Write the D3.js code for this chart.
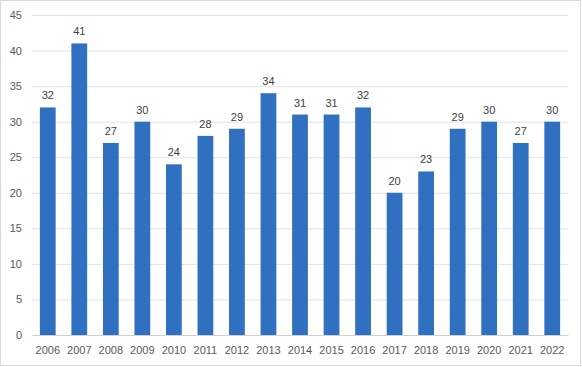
<!DOCTYPE html>
<html><head><meta charset="utf-8">
<script src="https://cdn.jsdelivr.net/npm/d3@7"></script>
<style>body{margin:0;background:#fff}svg{display:block}</style>
</head><body><svg id="c" width="582" height="367"></svg>
<script>
const years = ["2006","2007","2008","2009","2010","2011","2012","2013","2014","2015","2016","2017","2018","2019","2020","2021","2022"];
const values = [32,41,27,30,24,28,29,34,31,31,32,20,23,29,30,27,30];
const yTicks = [0,5,10,15,20,25,30,35,40,45];

const svg = d3.select("#c");
const font = "'Liberation Sans', Arial, sans-serif";
svg.append("rect").attr("x",0.5).attr("y",0.5).attr("width",580).attr("height",365)
  .attr("fill","#fff").attr("stroke","#d9d9d9");

const x = d3.scaleBand().domain(years).range([32,568]).paddingInner(0.5).paddingOuter(0.25);
const y = d3.scaleLinear().domain([0,45]).range([335,15]);

const gy = svg.append("g").attr("transform","translate(32,0)")
  .call(d3.axisLeft(y).tickValues(yTicks).tickSize(-536).tickPadding(10));
gy.select(".domain").remove();
gy.selectAll(".tick line").attr("stroke","#e3e3e3");
gy.selectAll(".tick text").attr("fill","#595959").style("font-family",font).style("font-size","11px");

const gx = svg.append("g").attr("transform","translate(0,335)")
  .call(d3.axisBottom(x).tickSize(0).tickPadding(11));
gx.select(".domain").attr("stroke","#d0d0d0");
gx.selectAll(".tick text").attr("fill","#595959").style("font-family",font).style("font-size","11px");

svg.append("g").selectAll("rect").data(values).join("rect")
  .attr("x",(d,i)=>x(years[i])).attr("width",x.bandwidth())
  .attr("y",d=>y(d)).attr("height",d=>y(0)-y(d)).attr("fill","#3070C0");

svg.append("g").selectAll("text").data(values).join("text")
  .attr("x",(d,i)=>x(years[i])+x.bandwidth()/2).attr("y",d=>y(d)-8)
  .attr("text-anchor","middle").attr("fill","#404040")
  .style("font-family",font).style("font-size","11px").text(d=>d);
</script></body></html>
